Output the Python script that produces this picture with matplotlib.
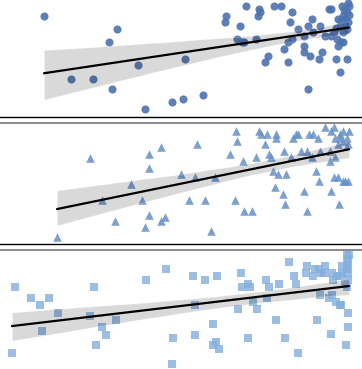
"""Three stacked regression panels (circles, triangles, squares) with CI bands."""

import matplotlib

matplotlib.use("Agg")
import matplotlib.pyplot as plt
import numpy as np
import seaborn as sns

# panel 1: circles
x_circ = [44, 117, 109, 138, 185, 71, 93, 112, 145, 172, 183, 203, 226, 225, 246,
          259, 260, 258, 240, 274, 281, 292, 290, 312, 308, 320, 298, 329, 331, 342,
          348, 349, 343, 347, 345, 338, 348, 340, 347, 334, 343, 313, 304, 325, 331,
          337, 343, 341, 338, 237, 244, 242, 256, 288, 292, 284, 304, 304, 310, 322,
          319, 268, 265, 288, 336, 347, 340, 308, 344, 346, 341, 349, 336]
y_circ = [101, 88, 75, 52, 58, 38, 38, 28, 8, 15, 18, 22, 101, 95, 111,
          108, 105, 101, 91, 111, 111, 105, 95, 98, 91, 91, 88, 108, 108, 111,
          114, 111, 101, 105, 98, 98, 95, 91, 88, 85, 85, 85, 81, 81, 81,
          78, 75, 75, 71, 78, 75, 75, 78, 75, 78, 68, 71, 65, 61, 65,
          58, 61, 55, 55, 58, 58, 45, 28, 107, 92, 97, 102, 89]

# panel 2: triangles
x_tri = [57, 90, 102, 115, 131, 142, 149, 149, 149, 145, 161, 165, 161, 181, 189,
         195, 197, 205, 211, 215, 235, 230, 236, 237, 243, 244, 252, 256, 259, 261,
         267, 265, 269, 271, 273, 276, 276, 278, 275, 283, 285, 286, 284, 291, 293,
         296, 298, 301, 304, 307, 307, 312, 309, 313, 318, 316, 319, 320, 325, 331,
         334, 330, 330, 335, 331, 334, 338, 343, 348, 345, 339, 340, 343, 349, 340,
         347, 343, 348, 338, 335]
y_tri = [7, 86, 44, 23, 60, 44, 90, 76, 29, 17, 23, 27, 97, 70, 44,
         67, 100, 44, 13, 67, 44, 90, 113, 103, 83, 33, 33, 87, 113, 110,
         110, 100, 90, 87, 73, 110, 106, 70, 57, 50, 40, 70, 93, 87, 106,
         110, 110, 93, 53, 33, 93, 87, 110, 110, 106, 73, 63, 93, 117, 113,
         117, 93, 83, 87, 53, 67, 67, 63, 63, 63, 40, 110, 113, 113, 106,
         106, 103, 100, 100, 106]

# panel 3: squares
x_sq = [12, 15, 31, 40, 49, 58, 42, 90, 94, 102, 106, 96, 116, 146, 166,
        173, 172, 193, 195, 195, 205, 217, 213, 213, 216, 219, 238, 241, 242, 248,
        250, 253, 257, 248, 266, 269, 267, 279, 276, 285, 289, 294, 296, 298, 306,
        307, 313, 315, 319, 321, 325, 324, 317, 320, 329, 332, 331, 332, 333, 337,
        340, 342, 342, 336, 340, 341, 346, 348, 348, 347, 349, 348, 347, 348, 347,
        348, 348, 347, 345]
y_sq = [19, 85, 74, 67, 74, 59, 41, 56, 85, 45, 37, 27, 52, 92, 103,
        34, 8, 96, 67, 37, 92, 96, 48, 27, 30, 23, 63, 99, 85, 88,
        85, 70, 63, 34, 92, 85, 74, 88, 52, 34, 110, 96, 88, 19, 99,
        106, 96, 103, 103, 99, 106, 99, 52, 77, 74, 77, 38, 99, 92, 96,
        96, 99, 106, 70, 67, 67, 27, 59, 45, 117, 117, 113, 110, 106, 103,
        99, 92, 85, 88]

FIG_W, FIG_H = 362, 369
# axes boxes in pixels: (top_px, bottom_px); tops/bottoms may run off the image
BOXES = [(-3, 117), (123, 244), (250, 372)]

sns.set_style("white")
fig = plt.figure(figsize=(FIG_W / 100, FIG_H / 100), dpi=100)

panels = [
    (x_circ, y_circ, "o", "#4c72b0", 34, 0.9),
    (x_tri, y_tri, "^", "#6590c8", 38, 0.85),
    (x_sq, y_sq, "s", "#84aedd", 28, 0.8),
]

for (top, bot), (xs, ys, mk, col, size, alpha) in zip(BOXES, panels):
    ax = fig.add_axes([0, 1 - bot / FIG_H, 1, (bot - top) / FIG_H])
    sns.regplot(
        x=np.array(xs, dtype=float),
        y=np.array(ys, dtype=float),
        ax=ax,
        marker=mk,
        seed=0,
        scatter_kws={"color": col, "s": size, "alpha": alpha, "linewidths": 0},
        line_kws={"color": "black", "lw": 1.6},
    )
    ax.set_xlim(0, FIG_W)
    ax.set_ylim(0, bot - top)
    ax.set_xticks([])
    ax.set_yticks([])
    ax.set_xlabel("")
    ax.set_ylabel("")
    ax.spines["left"].set_visible(False)
    ax.spines["right"].set_visible(False)
    ax.spines["top"].set_color("#777777")
    ax.spines["top"].set_linewidth(1.2)
    ax.spines["bottom"].set_color("black")
    ax.spines["bottom"].set_linewidth(1.0)

fig.savefig("out.png", dpi=100)
plt.close(fig)
